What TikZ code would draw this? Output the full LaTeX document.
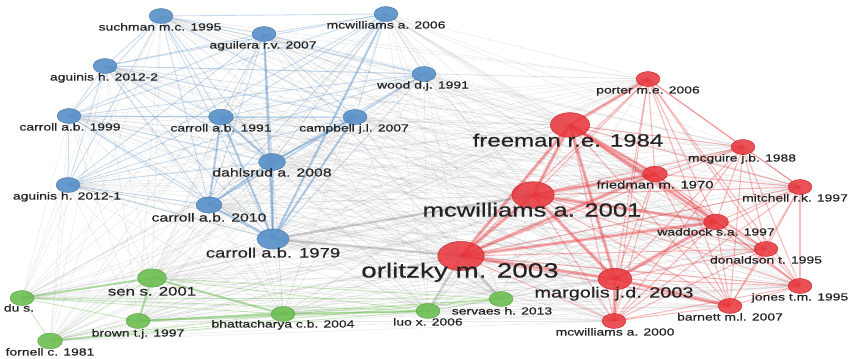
\documentclass[tikz,border=0pt]{standalone}
\usepackage{fontspec}
\newfontfamily\vosfont[FakeStretch=1.35,FakeBold=0.4]{Liberation Sans}
\usetikzlibrary{shapes.geometric,positioning}
\pgfdeclarelayer{bg}
\pgfsetlayers{bg,main}

\definecolor{vblue}{RGB}{88,144,200}
\definecolor{vred}{RGB}{232,52,58}
\definecolor{vgreen}{RGB}{108,190,82}
\definecolor{vgray}{RGB}{130,130,130}
\definecolor{vtext}{RGB}{35,35,35}

\tikzset{
  item/.style={ellipse, inner sep=0pt, minimum width=#1*0.062cm, minimum height=#1*0.039cm},
  bitem/.style={item=#1, fill=vblue, draw=vblue!85!black, fill opacity=0.9},
  ritem/.style={item=#1, fill=vred, draw=vred!85!black, fill opacity=0.85},
  gitem/.style={item=#1, fill=vgreen, draw=vgreen!85!black, fill opacity=0.9},
  lbl/.style={font=\vosfont\fontsize{#1}{#1}\selectfont, text=vtext, inner sep=0pt, anchor=mid},
  lbl/.default=8.8,
  glink/.style={vgray, opacity=0.17, line width=0.45pt},
  blink/.style={vblue, opacity=0.33, line width=0.7pt},
  rlink/.style={vred, opacity=0.33, line width=0.9pt},
  gnlink/.style={vgreen, opacity=0.38, line width=0.7pt},
}

\begin{document}
\begin{tikzpicture}[x=0.03cm, y=-0.03cm]
    \useasboundingbox (0,0) rectangle (850,358);

    % Blue cluster
    \foreach \n/\x/\y/\r in {such/161/16/11.5, agui07/264/34/11.5, mcw06/386/14/11.5,
        aguin2/105/66/11.5, wood/424/74/11.5, car99/69/116/11.5, car91/221/117/12,
        camp/355/117/11.5, dahl/272/162/13, aguin1/68/185/11.5, car10/209/205/12.5,
        car79/273/239/15.5}
        \node[bitem=\r] (\n) at (\x,\y) {};

    % Green cluster
    \foreach \n/\x/\y/\r in {sen/152/278/14, du/22/298/11.5, brown/138/321/11.5,
        bhat/283/314/11.5, forn/50/341/12, luo/428/311/11.5, serv/501/299/11.5}
        \node[gitem=\r] (\n) at (\x,\y) {};

    % Red cluster
    \foreach \n/\x/\y/\r in {porter/648/79/11.5, free/570/125/19, mcgu/743/147/11.5,
        fried/655/174/12, mitch/800/187/11.5, mcw01/533/195/20.5, wadd/716/222/12,
        donal/766/249/11.5, orl/461/256/22.5, marg/615/279/16.5, jones/800/286/11.5,
        barn/730/306/11.5, mcw00/614/321/11.5}
        \node[ritem=\r] (\n) at (\x,\y) {};

    \begin{pgfonlayer}{bg}
    \fill[white] (0,0) rectangle (850,358);
    % links between clusters
    \foreach \a in {such,agui07,mcw06,aguin2,wood,car99,car91,camp,dahl,aguin1,car10,car79,
                    sen,du,brown,bhat,forn,luo,serv}
        \foreach \b in {porter,free,mcgu,fried,mitch,mcw01,wadd,donal,orl,marg,jones,barn,mcw00}
            \draw[glink] (\a.center) -- (\b.center);
    \foreach \a in {such,agui07,mcw06,aguin2,wood,car99,car91,camp,dahl,aguin1,car10,car79}
        \foreach \b in {sen,du,brown,bhat,forn,luo,serv}
            \draw[glink] (\a.center) -- (\b.center);

    % links inside clusters
    \foreach \a [count=\i] in {such,agui07,mcw06,aguin2,wood,car99,car91,camp,dahl,aguin1,car10,car79}
        \foreach \b [count=\j] in {such,agui07,mcw06,aguin2,wood,car99,car91,camp,dahl,aguin1,car10,car79}
            {\ifnum\j>\i \draw[blink] (\a.center) -- (\b.center); \fi}
    \foreach \a [count=\i] in {sen,du,brown,bhat,forn,luo,serv}
        \foreach \b [count=\j] in {sen,du,brown,bhat,forn,luo,serv}
            {\ifnum\j>\i \draw[gnlink] (\a.center) -- (\b.center); \fi}
    \foreach \a [count=\i] in {porter,free,mcgu,fried,mitch,mcw01,wadd,donal,orl,marg,jones,barn,mcw00}
        \foreach \b [count=\j] in {porter,free,mcgu,fried,mitch,mcw01,wadd,donal,orl,marg,jones,barn,mcw00}
            {\ifnum\j>\i \draw[rlink] (\a.center) -- (\b.center); \fi}

    % strong links
    \foreach \a/\b in {orl/mcw01, orl/free, orl/marg, mcw01/free, mcw01/marg, free/marg,
        free/fried, free/porter, mcw01/wadd, marg/wadd, orl/wadd, marg/mcw00, free/wadd,
        orl/fried, mcw01/fried, marg/barn}
        \draw[rlink, line width=2.8pt] (\a.center) -- (\b.center);
    \foreach \a/\b in {car79/dahl, car79/car91, car79/car10, car10/dahl, car91/dahl,
        car10/car91, car79/agui07, car79/camp, dahl/camp, car79/mcw06}
        \draw[blink, line width=2pt] (\a.center) -- (\b.center);
    \foreach \a/\b in {sen/brown, brown/bhat, bhat/luo, sen/bhat, du/sen}
        \draw[gnlink, line width=1.8pt] (\a.center) -- (\b.center);
    \foreach \a/\b in {orl/luo, car79/orl, orl/serv, car79/mcw01}
        \draw[glink, opacity=0.3, line width=2.2pt] (\a.center) -- (\b.center);
    \end{pgfonlayer}

    % Labels
    \foreach \n/\x/\y/\s/\t in {such/160/28/8.8/suchman m.c. 1995, agui07/263/46/8.8/aguilera r.v. 2007,
        mcw06/386/26/8.8/mcwilliams a. 2006, aguin2/104/78/8.8/aguinis h. 2012-2,
        wood/423/86/8.8/wood d.j. 1991, car99/70/128/8.8/carroll a.b. 1999,
        car91/221/129/8.8/carroll a.b. 1991, camp/354/129/8.8/campbell j.l. 2007,
        dahl/272/174/10/dahlsrud a. 2008, aguin1/67/197/8.8/aguinis h. 2012-1,
        car10/209/219/10/carroll a.b. 2010, car79/273/255/11.7/carroll a.b. 1979,
        sen/152/293/10.6/sen s. 2001, du/19/309/8.8/du s., brown/138/334/8.8/brown t.j. 1997,
        bhat/283/325/8.8/bhattacharya c.b. 2004, forn/50/353/8.8/fornell c. 1981,
        luo/428/323/8.8/luo x. 2006, serv/502/312/8.8/servaes h. 2013,
        porter/648/91/8.8/porter m.e. 2006, free/568/144/15.2/freeman r.e. 1984,
        mcgu/742/159/8.8/mcguire j.b. 1988, fried/655/186/9.4/friedman m. 1970,
        mitch/795/199/8.8/mitchell r.k. 1997, mcw01/532/214/16.2/mcwilliams a. 2001,
        wadd/716/233/8.8/waddock s.a. 1997, donal/766/261/8.8/donaldson t. 1995,
        orl/460/275/17.6/orlitzky m. 2003, marg/614/295/12.6/margolis j.d. 2003,
        jones/800/298/8.8/jones t.m. 1995, barn/730/318/8.8/barnett m.l. 2007,
        mcw00/615/333/8.8/mcwilliams a. 2000}
        \node[lbl=\s] (l-\n) at (\x,\y) {\t};
\end{tikzpicture}
\end{document}
